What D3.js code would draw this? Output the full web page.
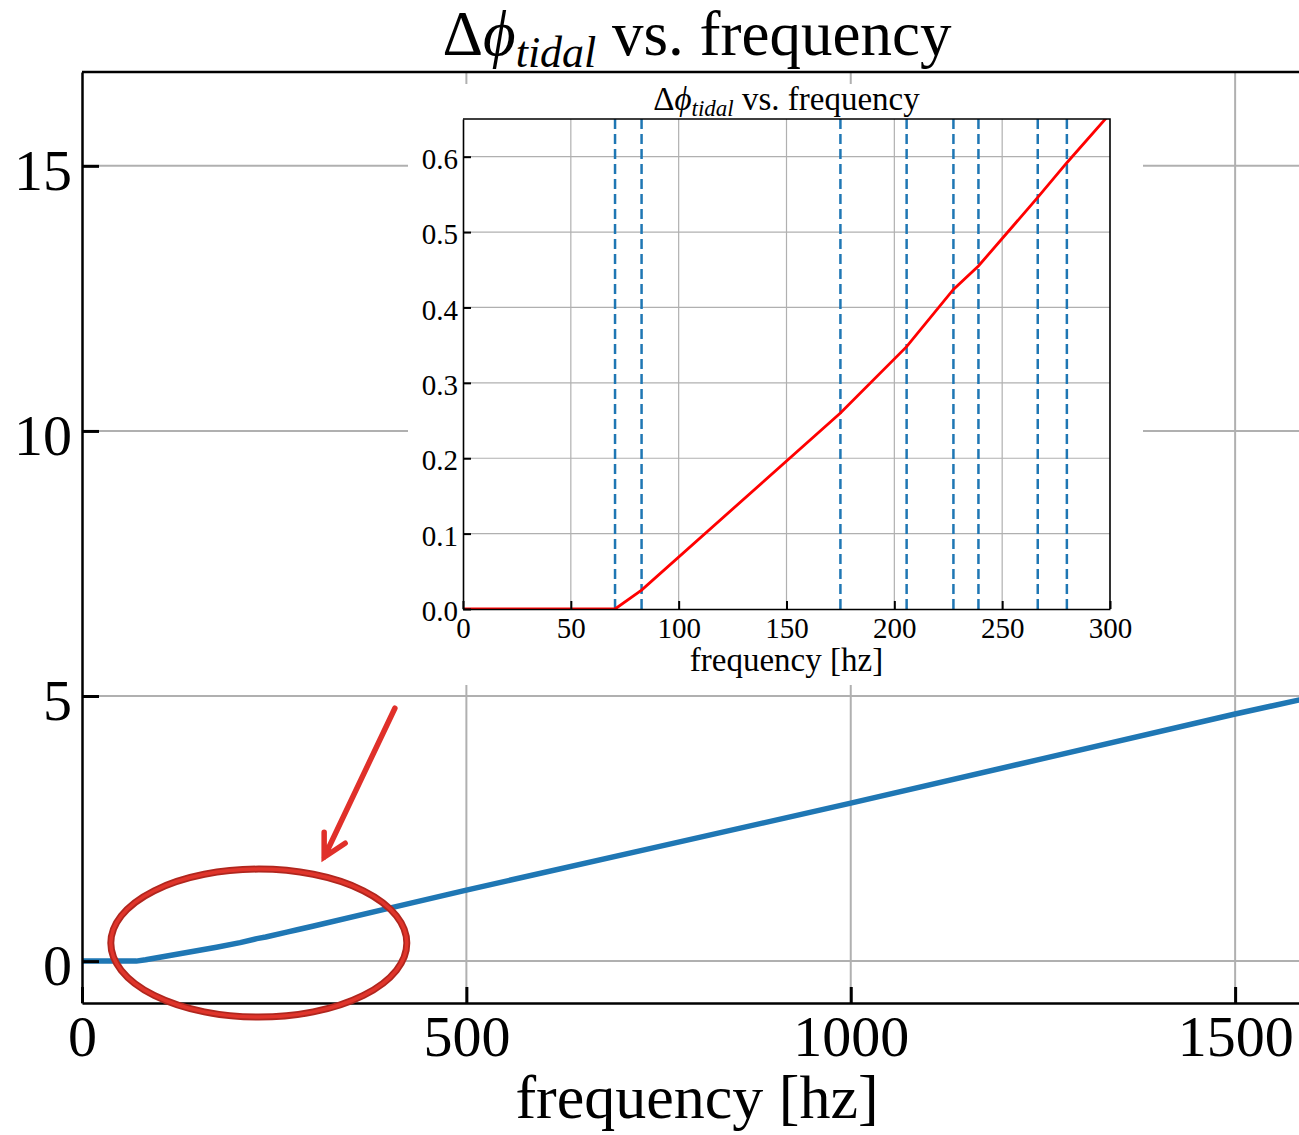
<!DOCTYPE html>
<meta charset="utf-8">
<script src="https://d3js.org/d3.v7.min.js"></script>
<style>
  body { margin: 0; background: #fff; }
  text { font-family: 'Liberation Serif', 'DejaVu Serif', serif; fill: #000; }
</style>
<div id="my_dataviz"></div>
<script>

// main curve: tidal phase vs frequency
var mainFreq  = [0, 70.5, 82.8, 175, 205.7, 227.4, 239, 266.5, 280, 300, 400, 500, 750, 1000, 1250, 1500, 1600];
var mainPhase = [0, 0, 0.025, 0.26, 0.348, 0.424, 0.455, 0.546, 0.592, 0.657, 1.0, 1.34, 2.16, 2.98, 3.82, 4.66, 4.98];

// zoomed inset (0-300 hz)
var insetFreq  = [0, 70.5, 82.8, 175, 205.7, 227.4, 239, 266.5, 280, 300];
var insetPhase = [0, 0, 0.025, 0.26, 0.348, 0.424, 0.455, 0.546, 0.592, 0.657];

// dashed vertical markers in the inset
var markerFreq = [70.5, 82.8, 175, 205.7, 227.4, 239, 266.5, 280];

var mainXTicks = [0, 500, 1000, 1500];
var mainYTicks = [0, 5, 10, 15];
var insetXTicks = [0, 50, 100, 150, 200, 250, 300];
var insetYTicks = [0, 0.1, 0.2, 0.3, 0.4, 0.5, 0.6];

var W = 1299, H = 1135;
var grid = "#b0b0b0";

var svg = d3.select("#my_dataviz")
  .append("svg")
    .attr("width", W)
    .attr("height", H);

// ---------- main axes ----------
var x = d3.scaleLinear().domain([0, 1600]).range([82, 1312]);
var y = d3.scaleLinear().domain([-0.79, 16.77]).range([1003, 72]);

// grid
svg.append("g").selectAll("line")
  .data(mainXTicks.slice(1))
  .enter().append("line")
    .attr("x1", d => x(d)).attr("x2", d => x(d))
    .attr("y1", y.range()[1]).attr("y2", y.range()[0])
    .style("stroke", grid).style("stroke-width", 2);
svg.append("g").selectAll("line")
  .data(mainYTicks)
  .enter().append("line")
    .attr("x1", x.range()[0]).attr("x2", W)
    .attr("y1", d => y(d)).attr("y2", d => y(d))
    .style("stroke", grid).style("stroke-width", 2);

// line
var mainData = mainFreq.map(function(f, i) { return {f: f, p: mainPhase[i]}; });
svg.append("path")
  .datum(mainData)
  .attr("fill", "none")
  .attr("stroke", "#1f77b4")
  .attr("stroke-width", 5.5)
  .attr("stroke-linejoin", "round")
  .attr("d", d3.line().x(d => x(d.f)).y(d => y(d.p)));

// axes with inward ticks
var xAxis = svg.append("g")
  .attr("transform", "translate(0," + y.range()[0] + ")")
  .call(d3.axisBottom(x).tickValues(mainXTicks).tickFormat(d3.format("d"))
    .tickSizeInner(-16).tickSizeOuter(0).tickPadding(12));
var yAxis = svg.append("g")
  .attr("transform", "translate(" + x.range()[0] + ",0)")
  .call(d3.axisLeft(y).tickValues(mainYTicks).tickSizeInner(-17).tickSizeOuter(0).tickPadding(10));
[xAxis, yAxis].forEach(function(a) {
  a.select(".domain").style("stroke", "#000").style("stroke-width", 2.5);
  a.selectAll(".tick line").style("stroke", "#000").style("stroke-width", 3);
  a.selectAll("text").style("font-size", "58px").style("font-family", "'Liberation Serif', serif");
});
yAxis.selectAll("text").attr("dy", "0.4em");
svg.append("line")
  .attr("x1", x.range()[0]).attr("x2", W)
  .attr("y1", y.range()[1]).attr("y2", y.range()[1])
  .style("stroke", "#000").style("stroke-width", 2.5);

// title + label
var title = svg.append("text")
  .attr("x", 697).attr("y", 55)
  .attr("text-anchor", "middle")
  .style("font-size", "63px");
title.append("tspan").text("\u0394");
title.append("tspan").style("font-style", "italic").text("\u03d5");
title.append("tspan").attr("dy", 12).style("font-style", "italic").style("font-size", "44px").text("tidal");
title.append("tspan").attr("dy", -12).text(" vs. frequency");

svg.append("text")
  .attr("x", 697).attr("y", 1118)
  .attr("text-anchor", "middle")
  .style("font-size", "62px")
  .text("frequency [hz]");

// ---------- inset ----------
svg.append("rect")
  .attr("x", 408).attr("y", 84).attr("width", 735).attr("height", 601)
  .attr("fill", "#fff");

var xi = d3.scaleLinear().domain([0, 300]).range([463, 1110]);
var yi = d3.scaleLinear().domain([0, 0.65]).range([609, 119]);

svg.append("clipPath").attr("id", "insetClip")
  .append("rect")
    .attr("x", xi.range()[0]).attr("y", yi.range()[1])
    .attr("width", xi.range()[1] - xi.range()[0])
    .attr("height", yi.range()[0] - yi.range()[1]);

var inset = svg.append("g");

inset.append("g").selectAll("line")
  .data(insetXTicks.slice(1, -1))
  .enter().append("line")
    .attr("x1", d => xi(d)).attr("x2", d => xi(d))
    .attr("y1", yi.range()[1]).attr("y2", yi.range()[0])
    .style("stroke", grid).style("stroke-width", 1.2);
inset.append("g").selectAll("line")
  .data(insetYTicks.slice(1))
  .enter().append("line")
    .attr("x1", xi.range()[0]).attr("x2", xi.range()[1])
    .attr("y1", d => yi(d)).attr("y2", d => yi(d))
    .style("stroke", grid).style("stroke-width", 1.2);

// dashed markers
inset.append("g").selectAll("line")
  .data(markerFreq)
  .enter().append("line")
    .attr("x1", d => xi(d)).attr("x2", d => xi(d))
    .attr("y1", yi.range()[1]).attr("y2", yi.range()[0])
    .style("stroke", "#1f77b4").style("stroke-width", 2.5)
    .style("stroke-dasharray", "10,5");

var insetData = insetFreq.map(function(f, i) { return {f: f, p: insetPhase[i]}; });
inset.append("path")
  .datum(insetData)
  .attr("clip-path", "url(#insetClip)")
  .attr("fill", "none")
  .attr("stroke", "red")
  .attr("stroke-width", 2.8)
  .attr("d", d3.line().x(d => xi(d.f)).y(d => yi(d.p)));

var xiAxis = inset.append("g")
  .attr("transform", "translate(0," + yi.range()[0] + ")")
  .call(d3.axisBottom(xi).tickValues(insetXTicks).tickSizeInner(-8).tickSizeOuter(0).tickPadding(8));
var yiAxis = inset.append("g")
  .attr("transform", "translate(" + xi.range()[0] + ",0)")
  .call(d3.axisLeft(yi).tickValues(insetYTicks).tickFormat(d3.format(".1f")).tickSizeInner(-8).tickSizeOuter(0).tickPadding(5));
[xiAxis, yiAxis].forEach(function(a) {
  a.select(".domain").style("stroke", "#000").style("stroke-width", 1.6);
  a.selectAll(".tick line").style("stroke", "#000").style("stroke-width", 2);
  a.selectAll("text").style("font-size", "29px").style("font-family", "'Liberation Serif', serif");
});
yiAxis.selectAll("text").attr("dy", "0.4em");
// top and right spines of the inset
inset.append("path")
  .attr("d", "M" + xi.range()[0] + "," + yi.range()[1] + "H" + xi.range()[1] + "V" + yi.range()[0])
  .attr("fill", "none").style("stroke", "#000").style("stroke-width", 1.6);

var ititle = inset.append("text")
  .attr("x", (xi.range()[0] + xi.range()[1]) / 2).attr("y", 110)
  .attr("text-anchor", "middle")
  .style("font-size", "33px");
ititle.append("tspan").text("\u0394");
ititle.append("tspan").style("font-style", "italic").text("\u03d5");
ititle.append("tspan").attr("dy", 6).style("font-style", "italic").style("font-size", "23px").text("tidal");
ititle.append("tspan").attr("dy", -6).text(" vs. frequency");

inset.append("text")
  .attr("x", (xi.range()[0] + xi.range()[1]) / 2).attr("y", 671)
  .attr("text-anchor", "middle")
  .style("font-size", "33px")
  .text("frequency [hz]");

// ---------- annotation: ellipse + arrow ----------
var cx = x(230), cy = y(0.34);
svg.append("ellipse")
  .attr("cx", cx).attr("cy", cy).attr("rx", 148).attr("ry", 74)
  .attr("fill", "none").attr("stroke", "#b0261e").attr("stroke-width", 7);
svg.append("ellipse")
  .attr("cx", cx).attr("cy", cy).attr("rx", 148).attr("ry", 74)
  .attr("fill", "none").attr("stroke", "#e0352b").attr("stroke-width", 3.5);

var a0 = [x(407), y(4.77)], a1 = [x(315), y(1.96)];
svg.append("path")
  .attr("d", "M" + a0 + "L" + a1 + "M" + [a1[0], a1[1] - 25] + "L" + a1 + "L" + [a1[0] + 21, a1[1] - 14])
  .attr("fill", "none").attr("stroke", "#e0302a").attr("stroke-width", 5.5)
  .attr("stroke-linecap", "round").attr("stroke-linejoin", "miter");

</script>
